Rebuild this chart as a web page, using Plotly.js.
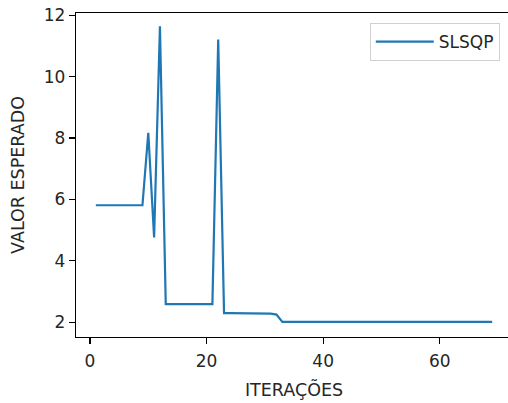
<!DOCTYPE html>
<html>
<head>
<meta charset="utf-8">
<script src="https://cdn.plot.ly/plotly-3.0.1.min.js"></script>
<style>
html, body { margin:0; padding:0; overflow:hidden; width:508px; height:403px; background:#fff; }
#chart { width:520px; height:403px; }
</style>
</head>
<body>
<div id="chart"></div>
<script>
const iterations = [];
for (let i = 1; i <= 69; i++) iterations.push(i);
const seriesName = "SLSQP";
const expectedValue = [
  5.81, 5.81, 5.81, 5.81, 5.81, 5.81, 5.81, 5.81, 5.81, // 1-9
  8.17, 4.76, 11.64,                                      // 10-12
  2.59, 2.59, 2.59, 2.59, 2.59, 2.59, 2.59, 2.59, 2.59,  // 13-21
  11.21,                                                  // 22
  2.30, 2.30, 2.30, 2.30, 2.30, 2.29, 2.29, 2.29, 2.28,  // 23-31
  2.25,                                                   // 32
  2.01, 2.01, 2.01, 2.01, 2.01, 2.01, 2.01, 2.01, 2.01, 2.01, // 33-42
  2.01, 2.01, 2.01, 2.01, 2.01, 2.01, 2.01, 2.01, 2.01, 2.01, // 43-52
  2.01, 2.01, 2.01, 2.01, 2.01, 2.01, 2.01, 2.01, 2.01, 2.01, // 53-62
  2.01, 2.01, 2.01, 2.01, 2.01, 2.01, 2.01                    // 63-69
];
const xTicks = [0, 20, 40, 60];
const yTicks = [2, 4, 6, 8, 10, 12];
const xLabel = "ITERAÇÕES";
const yLabel = "VALOR ESPERADO";

const font = "DejaVu Sans, sans-serif";
const trace = {
  x: iterations, y: expectedValue, type: "scatter", mode: "lines",
  name: seriesName, line: { color: "#1f77b4", width: 2.2 }
};
const layout = {
  width: 520, height: 403,
  margin: { l: 76, r: 8, t: 13, b: 66, pad: 0 },
  paper_bgcolor: "#fff", plot_bgcolor: "#fff",
  font: { family: font, size: 17, color: "#262626" },
  showlegend: true,
  legend: {
    x: 0.972, y: 0.969, xanchor: "right", yanchor: "top",
    bordercolor: "#d0d0d0", borderwidth: 1, bgcolor: "#fff",
    itemwidth: 58,
    font: { family: font, size: 17, color: "#262626" }
  },
  xaxis: {
    range: [-2.4, 72.4], tickvals: xTicks, ticktext: xTicks.map(String),
    showgrid: false, zeroline: false, showline: true, mirror: true,
    linecolor: "#000", linewidth: 1.2, ticks: "outside", ticklen: 6, tickwidth: 1.2, tickcolor: "#000",
    ticklabelstandoff: 2,
    title: { text: xLabel, font: { family: font, size: 17.5, color: "#262626" }, standoff: 14 }
  },
  yaxis: {
    range: [1.52, 12.07], tickvals: yTicks, ticktext: yTicks.map(String),
    showgrid: false, zeroline: false, showline: true, mirror: true,
    linecolor: "#000", linewidth: 1.2, ticks: "outside", ticklen: 6, tickwidth: 1.2, tickcolor: "#000",
    title: { text: yLabel, font: { family: font, size: 17.5, color: "#262626" }, standoff: 14 }
  }
};
Plotly.newPlot("chart", [trace], layout, { displayModeBar: false, staticPlot: true });
</script>
</body>
</html>
